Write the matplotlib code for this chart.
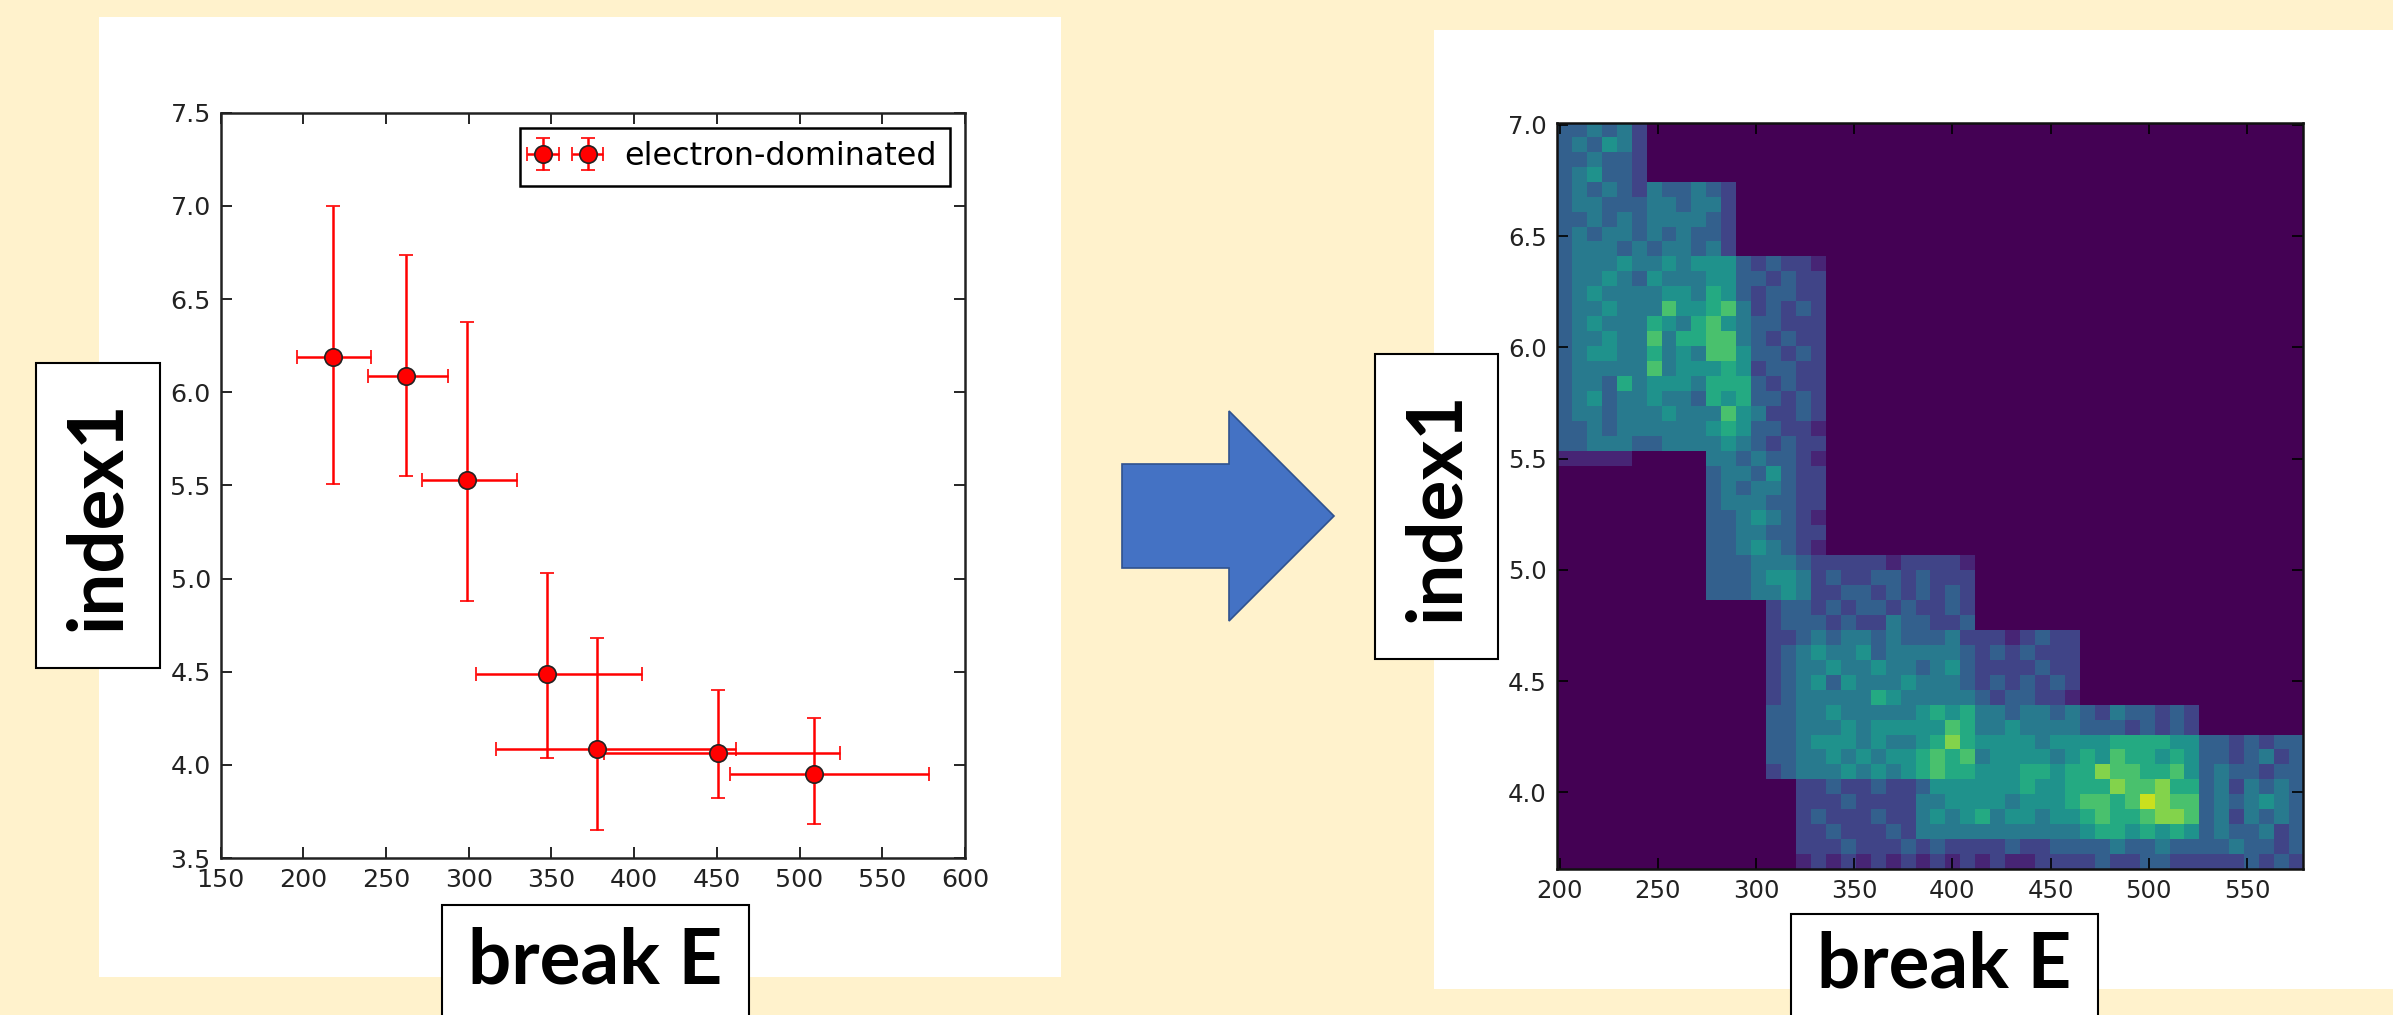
import numpy as np
import matplotlib
matplotlib.use("Agg")
import matplotlib.pyplot as plt
from matplotlib.patches import Rectangle, Polygon

W, H = 2393, 1015

# ---------- data ----------
break_e = [218, 262, 299.2, 347.5, 377.7, 450.8, 508.8]
break_e_low = [196.4, 238.9, 272, 304.7, 316.6, 382, 458]
break_e_high = [241.2, 287.5, 329.4, 404.8, 461.5, 524.7, 578.5]
index1 = [6.19, 6.087, 5.53, 4.49, 4.085, 4.065, 3.95]
index1_low = [5.507, 5.55, 4.88, 4.035, 3.65, 3.82, 3.68]
index1_high = [7.0, 6.736, 6.375, 5.03, 4.68, 4.40, 4.25]

left_xticks = [150, 200, 250, 300, 350, 400, 450, 500, 550, 600]
left_yticks = [3.5, 4.0, 4.5, 5.0, 5.5, 6.0, 6.5, 7.0, 7.5]
right_xticks = [200, 250, 300, 350, 400, 450, 500, 550]
right_yticks = [4.0, 4.5, 5.0, 5.5, 6.0, 6.5, 7.0]

# estimated density, one digit per cell, top row first; trailing cells are empty
heat_rows = [
    "334342",
    "343542",
    "334332",
    "345332",
    "343432433432",
    "344333443442",
    "334343444432",
    "343443434332",
    "344434344342",
    "344454454555323221",
    "344543544455332322",
    "345444455465323322",
    "344544475567423232",
    "345444654675433222",
    "344544746677432322",
    "345544645477533232",
    "344444745556523322",
    "344364555466632322",
    "345344544365633232",
    "344344454447542232",
    "334344444456533221",
    "334443344445432322",
    "111110000044343321",
    "000000000034435322",
    "000000000034344322",
    "000000000034443322",
    "000000000033454321",
    "000000000033443322",
    "000000000033454321",
    "0000000000" "33344432" "2222122221",
    "0000000000" "33345542" "3223323222",
    "0000000000" "33344542" "2332323232",
    "00000000000000" "23323233232232",
    "00000000000000" "23332322433223",
    "00000000000000" "22343443433342" "2212322",
    "00000000000000" "23454453444443" "2323222",
    "00000000000000" "23445445443453" "2222322",
    "00000000000000" "23453544454443" "2323232",
    "00000000000000" "23444446544444" "3233221",
    "00000000000000" "33445444445656" "4434434" "32433232",
    "00000000000000" "33444545555576" "4454444" "33323232",
    "00000000000000" "33" "45554544" "5686" "5555455" "55666655" "3323233",
    "00000000000000" "33" "44545455" "6767" "4555545" "65766565" "3323423",
    "00000000000000" "23" "44454545" "6766" "5556656" "68776675" "3433233",
    "0000000000000000" "22322322" "3555" "5556556" "66877866" "3424343",
    "0000000000000000" "22232222" "4455" "5545556" "77679877" "3434543",
    "0000000000000000" "23222322" "4545" "6455455" "67667887" "3424343",
    "0000000000000000" "22322232" "4444" "4444444" "56656565" "3433423",
    "0000000000000000" "22232223" "2322" "2232233" "33433433" "3343323",
    "0000000000000000" "12121212" "1212" "1211222" "23223322" "2223232",
]
heat = np.array([[int(c) for c in r.ljust(50, "0")] for r in heat_rows], dtype=float)

# ---------- page ----------
fig = plt.figure(figsize=(W / 100, H / 100), dpi=100, facecolor="#FFF2CC")


def rect_axes(x0, y0, x1, y1, **kw):
    return fig.add_axes([x0 / W, 1 - y1 / H, (x1 - x0) / W, (y1 - y0) / H], **kw)


back = rect_axes(0, 0, W, H, zorder=0)
back.set_xlim(0, W); back.set_ylim(H, 0); back.axis("off")
back.add_patch(Rectangle((99, 17), 962, 960, fc="white", ec="none"))
back.add_patch(Rectangle((1434, 30), 959, 959, fc="white", ec="none"))
arrow_x = [1122, 1229, 1229, 1334, 1229, 1229, 1122]
arrow_y = [464, 464, 411, 516, 621, 568, 568]
back.add_patch(Polygon(np.column_stack([arrow_x, arrow_y]), closed=True,
                       fc="#4472C4", ec="#2F528F", lw=1.2))

TICK = "#222222"

# ---------- left chart ----------
ax = rect_axes(220.5, 112.7, 965, 858, zorder=2)
ax.set_xlim(150, 600); ax.set_ylim(3.5, 7.5)
xe = [np.subtract(break_e, break_e_low), np.subtract(break_e_high, break_e)]
ye = [np.subtract(index1, index1_low), np.subtract(index1_high, index1)]
ax.errorbar(break_e, index1, xerr=xe, yerr=ye, fmt="o", color="red", ecolor="red",
            mec="#222222", mew=1.2, ms=12.5, elinewidth=1.8, capsize=5.0, capthick=1.5,
            label="electron-dominated")
ax.set_xticks(left_xticks); ax.set_yticks(left_yticks)
ax.set_xticklabels([str(v) for v in left_xticks])
ax.set_yticklabels([f"{v:.1f}" for v in left_yticks])
ax.tick_params(direction="in", top=True, right=True, length=8, width=1.2,
               labelsize=18.3, labelcolor=TICK, pad=7)
for s in ax.spines.values():
    s.set_linewidth(1.8); s.set_color("#222222")
leg = ax.legend(loc="upper right", bbox_to_anchor=(0.9798, 0.9795), bbox_transform=ax.transAxes,
                numpoints=2, fancybox=False, framealpha=1, edgecolor="black",
                fontsize=22.9, borderaxespad=0, handlelength=2.0, handletextpad=0.85,
                borderpad=0.42)
leg.get_frame().set_linewidth(1.8)

# ---------- right chart ----------
ax2 = rect_axes(1556.7, 122.7, 2303, 869, zorder=2)
ax2.imshow(heat, cmap="viridis", vmin=0, vmax=9.8, origin="upper", aspect="auto",
           interpolation="nearest", extent=[198.5, 578.5, 3.655, 7.01])
ax2.set_xticks(right_xticks); ax2.set_yticks(right_yticks)
ax2.set_xticklabels([str(v) for v in right_xticks])
ax2.set_yticklabels([f"{v:.1f}" for v in right_yticks])
ax2.tick_params(direction="in", top=True, right=True, length=8, width=1.2,
                labelsize=17.6, labelcolor=TICK, pad=7)
for s in ax2.spines.values():
    s.set_linewidth(1.8); s.set_color("#111111")

# ---------- label boxes ----------
top = rect_axes(0, 0, W, H, zorder=5)
top.set_xlim(0, W); top.set_ylim(H, 0); top.axis("off"); top.patch.set_alpha(0)


def label_box(x0, y0, x1, y1, text, rotation=0):
    top.add_patch(Rectangle((x0, y0), x1 - x0, y1 - y0, fc="white", ec="black", lw=1.5,
                            clip_on=True))
    top.text((x0 + x1) / 2, (y0 + y1) / 2, text, rotation=rotation, ha="center",
             va="center", fontsize=55, fontweight="bold", family="Lato", color="black")


label_box(36, 363, 160, 668, "index1", 90)
label_box(442, 905, 749, 1018, "break E")
label_box(1375, 354, 1498, 659, "index1", 90)
label_box(1791, 914, 2098, 1018, "break E")

fig.savefig("out.png", dpi=100, facecolor=fig.get_facecolor())
